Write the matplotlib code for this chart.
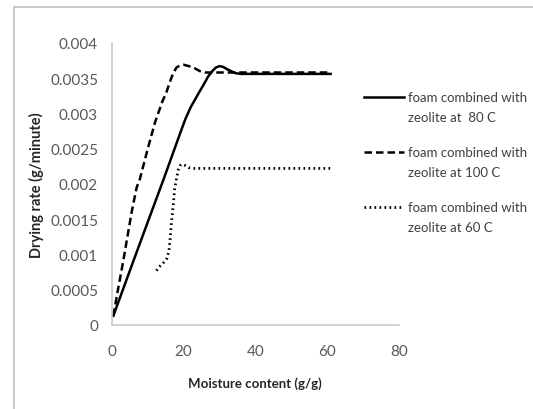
import matplotlib
matplotlib.use('Agg')
import matplotlib.pyplot as plt
from matplotlib.patches import Rectangle
from matplotlib.lines import Line2D

plt.rcParams['font.family'] = ['Lato', 'DejaVu Sans']

# foam combined with zeolite at 80 C (solid)
x_80 = [0.4, 5, 10, 14.3, 19.4, 20.5, 22, 23, 24, 25.5, 26.8, 28, 29, 30, 31, 32, 33.2, 34.5, 36, 45, 61]
y_80 = [0.00013, 0.00077, 0.00146, 0.00205, 0.00277, 0.00292, 0.00309, 0.00318, 0.00327, 0.0034,
        0.00352, 0.0036, 0.00365, 0.00367, 0.00366, 0.00363, 0.0036, 0.00357, 0.00356, 0.00356, 0.00356]

# foam combined with zeolite at 100 C (dashed)
x_100 = [0.4, 1.5, 3.1, 5.5, 6.9, 7.8, 10, 12, 14, 15.2, 16, 17, 18, 19, 20, 21.5, 23.1, 24.5, 26,
         30, 45, 61]
y_100 = [0.00013, 0.00045, 0.00089, 0.0016, 0.00195, 0.00207, 0.0025, 0.00287, 0.00316, 0.0033,
         0.00342, 0.00356, 0.00365, 0.00368, 0.00369, 0.00367, 0.00364, 0.0036, 0.00358,
         0.00358, 0.00358, 0.00358]

# foam combined with zeolite at 60 C (dotted)
x_60 = [12.4, 13.5, 14.5, 15.4, 15.9, 16.2, 16.6, 17.1, 17.5, 18, 18.5, 19, 19.7, 20.5, 21.5, 23,
        40, 61]
y_60 = [0.00077, 0.00084, 0.00089, 0.00095, 0.00105, 0.0012, 0.00145, 0.0017, 0.00193, 0.00207,
        0.0022, 0.00226, 0.00228, 0.00226, 0.00223, 0.00222, 0.00222, 0.00222]

labels = ['foam combined with\nzeolite at  80 C',
          'foam combined with\nzeolite at 100 C',
          'foam combined with\nzeolite at 60 C']

W, H = 533, 410
fig = plt.figure(figsize=(5.33, 4.10), dpi=100)
ax = fig.add_axes([0.21, 0.205, 0.538, 0.688])

styles = [dict(color='black', lw=1.8, linestyle='-'),
          dict(color='black', lw=1.8, linestyle=(0, (3, 1.6))),
          dict(color='black', lw=2.0, linestyle=(0, (0.6, 1.2)))]

ax.plot(x_80, y_80, **styles[0])
ax.plot(x_100, y_100, **styles[1])
ax.plot(x_60, y_60, **styles[2])

ax.set_xlim(0, 80)
ax.set_ylim(0, 0.004)
ax.set_xticks([0, 20, 40, 60, 80])
ax.set_yticks([0, 0.0005, 0.001, 0.0015, 0.002, 0.0025, 0.003, 0.0035, 0.004])
ax.set_yticklabels(['0', '0.0005', '0.001', '0.0015', '0.002', '0.0025', '0.003', '0.0035', '0.004'])

for s in ['top', 'right']:
    ax.spines[s].set_visible(False)
for s in ['left', 'bottom']:
    ax.spines[s].set_color('#c8c8c8')
    ax.spines[s].set_linewidth(1.2)

ax.tick_params(length=0, labelsize=11, colors='#595959')
ax.tick_params(axis='x', pad=14)
ax.tick_params(axis='y', pad=10)

ax.set_xlabel('Moisture content (g/g)', fontsize=9.5, fontweight='bold', color='#262626', labelpad=13)
ax.set_ylabel('Drying rate (g/minute)', fontsize=10.5, fontweight='bold', color='#262626', labelpad=4)

# legend drawn by hand so the sample line sits on the first text line
for i, (st, lab) in enumerate(zip(styles, labels)):
    yp = 98 + 55 * i
    fig.add_artist(Line2D([364 / W, 404 / W], [1 - yp / H, 1 - yp / H],
                          transform=fig.transFigure, **st))
    fig.text(408 / W, 1 - yp / H, lab.split('\n')[0], fontsize=9.5, color='#404040', va='center')
    fig.text(408 / W, 1 - (yp + 20) / H, lab.split('\n')[1], fontsize=9.5, color='#404040', va='center')

# outer chart frame
fig.patches.append(Rectangle((14 / W, -0.2), 1.2, 1.2 - 8 / H, transform=fig.transFigure,
                             fill=False, edgecolor='#bfbfbf', lw=1.2, zorder=0))

fig.savefig('out.png', dpi=100)
